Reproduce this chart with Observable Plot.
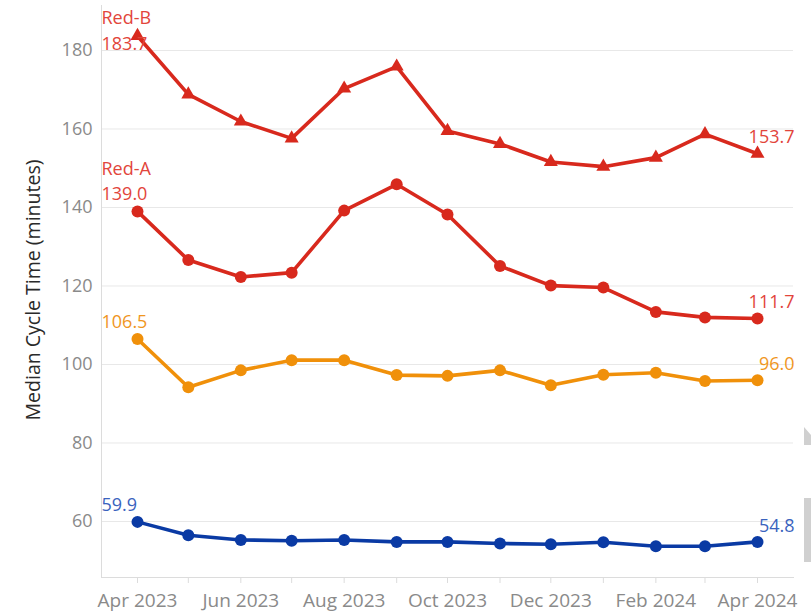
<!DOCTYPE html>
<html>
<head>
<meta charset="utf-8">
<script src="https://cdn.jsdelivr.net/npm/d3@7"></script>
<script src="https://cdn.jsdelivr.net/npm/@observablehq/plot@0.6"></script>
<style>
  html, body { margin: 0; padding: 0; background: #fff; }
  #wrap { position: relative; width: 811px; height: 614px; overflow: hidden; font-family: "Open Sans", sans-serif; }
  .deco { position: absolute; background: #d0d0d0; }
</style>
</head>
<body>
<div id="wrap"></div>
<script>
// ---- data ----
const months = ["2023-04","2023-05","2023-06","2023-07","2023-08","2023-09","2023-10","2023-11","2023-12","2024-01","2024-02","2024-03","2024-04"];
const seriesNames = ["Red-B", "Red-A", "Orange", "Blue"];
const redB   = [183.7,168.8,161.9,157.6,170.3,175.9,159.5,156.2,151.6,150.4,152.7,158.7,153.7];
const redA   = [139.0,126.6,122.3,123.4,139.2,145.9,138.2,125.1,120.1,119.6,113.4,112.0,111.7];
const orange = [106.5,94.2,98.5,101.1,101.1,97.3,97.1,98.5,94.7,97.4,97.9,95.8,96.0];
const blue   = [59.9,56.5,55.3,55.1,55.3,54.8,54.8,54.4,54.2,54.7,53.7,53.7,54.8];
const xTickLabels = ["2023-04","2023-06","2023-08","2023-10","2023-12","2024-02","2024-04"];
const yTicks = [60, 80, 100, 120, 140, 160, 180];
const yLabel = "Median Cycle Time (minutes)";

// ---- build table ----
const parse = s => new Date(Date.UTC(+s.slice(0,4), +s.slice(5,7) - 1, 1));
const valuesBySeries = [redB, redA, orange, blue];
const lineColors  = {"Red-B": "#d8291d", "Red-A": "#d8291d", "Orange": "#f0900a", "Blue": "#0a3aa4"};
const labelColors = {"Red-B": "#e2453b", "Red-A": "#e2453b", "Orange": "#f0961e", "Blue": "#3a63be"};
const rows = [];
seriesNames.forEach((name, i) => {
  valuesBySeries[i].forEach((v, j) => rows.push({series: name, date: parse(months[j]), value: v}));
});
const firsts = seriesNames.map(n => rows.find(r => r.series === n));
const lasts = seriesNames.map(n => rows.filter(r => r.series === n).at(-1));
const fmt = d3.format(".1f");

const font = "Open Sans, sans-serif";
const chart = Plot.plot({
  width: 811,
  height: 614,
  marginLeft: 101,
  marginRight: 18,
  marginTop: 5,
  marginBottom: 37,
  style: {fontFamily: font, background: "white", overflow: "visible"},
  x: {type: "utc", domain: [parse(months[0]), parse(months.at(-1))], insetLeft: 36, insetRight: 36},
  y: {domain: [45.73, 191.46]},
  marks: [
    Plot.gridY(yTicks, {stroke: "#e8e8e8", strokeOpacity: 1, strokeWidth: 1}),
    Plot.axisY(yTicks, {tickSize: 0, tickPadding: 9, fontSize: 18, fill: "#8a8a8a", label: null}),
    Plot.axisX(months.map(parse), {tickSize: 6, stroke: "#dcdcdc", tickFormat: () => "", label: null}),
    Plot.axisX(xTickLabels.map(parse), {tickSize: 0, tickPadding: 16, fontSize: 19, fill: "#8a8a8a", tickFormat: d3.utcFormat("%b %Y"), label: null}),
    Plot.frame({anchor: "left", stroke: "#dcdcdc"}),
    Plot.frame({anchor: "bottom", stroke: "#dcdcdc"}),
    Plot.line(rows, {x: "date", y: "value", z: "series", stroke: d => lineColors[d.series], strokeWidth: 3.6}),
    Plot.dot(rows.filter(r => r.series !== "Red-B"), {x: "date", y: "value", fill: d => lineColors[d.series], r: 6, stroke: null}),
    Plot.dot(rows.filter(r => r.series === "Red-B"), {x: "date", y: "value", symbol: "triangle", fill: d => lineColors[d.series], r: 5.2, stroke: null}),
    // start value labels
    Plot.text(firsts.filter(d => d.series !== "Red-B"), {x: "date", y: "value", text: d => fmt(d.value), fill: d => labelColors[d.series], textAnchor: "start", dx: -36, dy: -17, fontSize: 18}),
    Plot.text(firsts.filter(d => d.series === "Red-B"), {x: "date", y: "value", text: d => fmt(d.value), fill: d => labelColors[d.series], textAnchor: "start", dx: -36, dy: 8, fontSize: 18}),
    // series name labels
    Plot.text(firsts.filter(d => d.series === "Red-A"), {x: "date", y: "value", text: "series", fill: d => labelColors[d.series], textAnchor: "start", dx: -36, dy: -42, fontSize: 18}),
    Plot.text(firsts.filter(d => d.series === "Red-B"), {x: "date", y: "value", text: "series", fill: d => labelColors[d.series], textAnchor: "start", dx: -36, dy: -18, fontSize: 18}),
    // end value labels
    Plot.text(lasts, {x: "date", y: "value", text: d => fmt(d.value), fill: d => labelColors[d.series], textAnchor: "end", dx: 37, dy: -16, fontSize: 18})
  ]
});
const wrap = document.getElementById("wrap");
wrap.appendChild(chart);

// rotated y axis title
const svg = d3.select(chart);
svg.append("text")
  .attr("transform", "translate(35,290) rotate(-90)")
  .attr("text-anchor", "middle")
  .attr("dominant-baseline", "middle")
  .attr("font-size", 19.5)
  .attr("font-family", font)
  .attr("fill", "#2a2a2a")
  .text(yLabel);

// grey edge artifacts seen in the reference
const d1 = document.createElement("div");
d1.className = "deco";
Object.assign(d1.style, {left: "804px", top: "427px", width: "7px", height: "18px", clipPath: "polygon(0 0, 100% 45%, 100% 100%, 0 100%)"});
wrap.appendChild(d1);
const d2 = document.createElement("div");
d2.className = "deco";
Object.assign(d2.style, {left: "804px", top: "498px", width: "7px", height: "64px"});
wrap.appendChild(d2);
</script>
</body>
</html>
